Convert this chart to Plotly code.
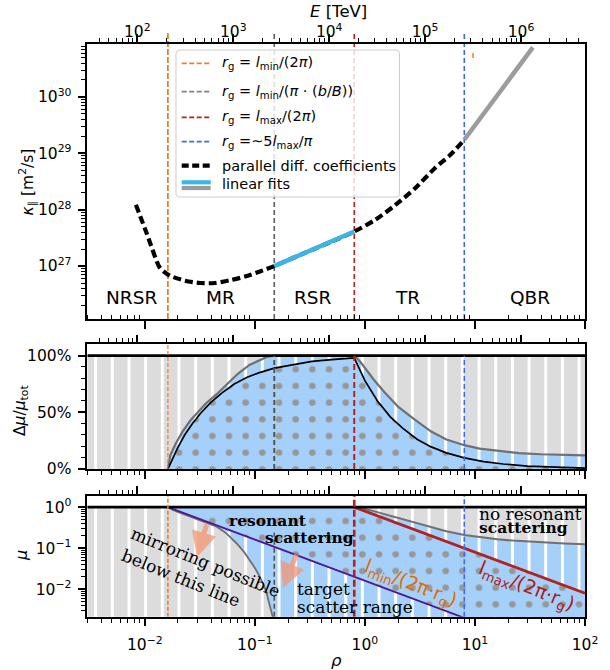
import math
import plotly.graph_objects as go

W, H = 610, 670

# ---------------- data ----------------
RHO_RANGE = [0.003, 100.0]          # rho axis limits
E_RANGE = [30.1, 4.64e6]            # top axis limits, E [TeV]
KAPPA_RANGE = [1.15e26, 8.7e30]
FRAC_RANGE = [0.0, 1.1]
MU_RANGE = [0.00214, 1.87]

# characteristic rho values (vertical dashed lines)
RHO_LMIN_2PI = 0.0162      # r_g = l_min/(2 pi)
RHO_LMIN_BB = 0.150        # r_g = l_min/(pi (b/B))
RHO_LMAX_2PI = 0.80        # r_g = l_max/(2 pi)
RHO_5LMAX_PI = 8.0         # r_g = ~5 l_max/pi

# top panel: parallel diffusion coefficients
kappa_rho = [0.0083, 0.0104, 0.0135, 0.0150, 0.0170, 0.0232, 0.0318, 0.0435, 0.0594,
             0.0814, 0.111, 0.150, 0.258, 0.483, 0.80, 1.24, 1.88, 2.86, 4.34, 5.94, 8.0]
kappa_val = [1.22e28, 3.8e27, 9.8e26, 7.9e26, 6.7e26, 5.5e26, 5.0e26, 5.0e26, 5.6e26,
             6.5e26, 8.0e26, 1.0e27, 1.58e27, 2.65e27, 4.1e27, 6.6e27, 1.2e28, 2.4e28,
             5.5e28, 9.3e28, 1.74e29]
fit_rsr_rho = [0.15, 0.80]
fit_rsr_kappa = [1.0e27, 4.1e27]
fit_qbr_rho = [8.0, 33.6]
fit_qbr_kappa = [1.74e29, 7.6e30]
stray_rho = [9.6, 9.6]
stray_kappa = [4.9e30, 6.0e30]

regime_names = ["NRSR", "MR", "RSR", "TR", "QBR"]
regime_rho = [0.0075, 0.049, 0.338, 2.42, 31.6]

# middle panel: resonant fraction
mid_black_rho = [0.0162, 0.018, 0.020, 0.023, 0.027, 0.032, 0.040, 0.050, 0.065, 0.085,
                 0.11, 0.15, 0.22, 0.33, 0.50, 0.80, 1.0, 1.3, 1.7, 2.2, 3.0, 4.0, 5.5,
                 8.0, 12.0, 18.0, 30.0, 50.0, 100.0]
mid_black_frac = [0.0, 0.10, 0.19, 0.30, 0.40, 0.49, 0.59, 0.67, 0.75, 0.81, 0.85, 0.89,
                  0.92, 0.95, 0.965, 0.98, 0.78, 0.60, 0.46, 0.36, 0.26, 0.195, 0.142,
                  0.098, 0.065, 0.044, 0.026, 0.016, 0.008]
mid_gray_rho = [0.0162, 0.017, 0.019, 0.022, 0.026, 0.030, 0.036, 0.045, 0.056, 0.070,
                0.090, 0.110, 0.130, 0.150, 0.80, 0.90, 1.0, 1.2, 1.5, 2.0, 2.8, 4.0,
                5.5, 8.0, 11.0, 16.0, 25.0, 40.0, 60.0, 100.0]
mid_gray_frac = [0.0, 0.12, 0.22, 0.33, 0.43, 0.50, 0.58, 0.66, 0.75, 0.84, 0.92, 0.96,
                 0.99, 1.0, 1.0, 0.95, 0.89, 0.79, 0.68, 0.55, 0.44, 0.33, 0.26, 0.21,
                 0.18, 0.16, 0.14, 0.13, 0.125, 0.12]

# bottom panel: pitch-angle cosine regions
bot_mirror_rho = [0.0162, 0.018, 0.021, 0.025, 0.030, 0.037, 0.045, 0.055, 0.068, 0.080,
                  0.090, 0.100, 0.111, 0.120, 0.128, 0.136, 0.142, 0.146]
bot_mirror_mu = [1.0, 0.85, 0.72, 0.60, 0.50, 0.41, 0.335, 0.23, 0.132, 0.080, 0.052,
                 0.033, 0.020, 0.013, 0.0079, 0.0045, 0.0028, 0.0020]
bot_nores_rho = [0.80, 0.90, 1.0, 1.2, 1.5, 2.0, 2.8, 4.0, 5.5, 8.0, 11.0, 16.0, 22.0,
                 32.0, 45.0, 65.0, 100.0]
bot_nores_mu = [1.0, 0.95, 0.90, 0.80, 0.68, 0.55, 0.44, 0.33, 0.26, 0.21, 0.185, 0.165,
                0.153, 0.143, 0.137, 0.131, 0.125]
lmin_line_rho = [0.0162, 8.0]
lmin_line_mu = [1.0, 0.002]
lmax_line_rho = [0.80, 100.0]
lmax_line_mu = [1.0, 0.008]
MU_BOTTOM = 0.002

# ticks
rho_ticks = [0.01, 0.1, 1, 10, 100]
rho_ticktext = ["10<sup>\u22122</sup>", "10<sup>\u22121</sup>", "10<sup>0</sup>",
                "10<sup>1</sup>", "10<sup>2</sup>"]
E_ticks = [1e2, 1e3, 1e4, 1e5, 1e6]
E_ticktext = ["10<sup>2</sup>", "10<sup>3</sup>", "10<sup>4</sup>", "10<sup>5</sup>",
              "10<sup>6</sup>"]
kappa_ticks = [1e27, 1e28, 1e29, 1e30]
kappa_ticktext = ["10<sup>27</sup>", "10<sup>28</sup>", "10<sup>29</sup>", "10<sup>30</sup>"]
frac_ticks = [0.0, 0.5, 1.0]
frac_ticktext = ["0%", "50%", "100%"]
frac_minor = [0.1, 0.2, 0.3, 0.4, 0.6, 0.7, 0.8, 0.9]
mu_ticks = [0.01, 0.1, 1.0]
mu_ticktext = ["10<sup>\u22122</sup>", "10<sup>\u22121</sup>", "10<sup>0</sup>"]


def log_minor(lo, hi):
    out = []
    for k in range(math.floor(math.log10(lo)) - 1, math.ceil(math.log10(hi)) + 1):
        for m in range(2, 10):
            v = m * 10.0 ** k
            if lo <= v <= hi:
                out.append(v)
    return out


# ---------------- geometry ----------------
def px2x(px):
    return px / W


def py2y(py):
    return 1 - py / H


XD = [px2x(87.3), px2x(585)]
Y_TOP = [py2y(319), py2y(44)]
Y_MID = [py2y(469), py2y(344.3)]
Y_BOT = [py2y(616.7), py2y(496)]

SANS = "DejaVu Sans"
SERIF = "DejaVu Serif"
TICKFONT = dict(family=SANS, size=15.5, color="black")

GRAY_BG = "#DCDCDC"
BLUE_BG = "#A5D0FA"
DOT_FG = "#979797"
ORANGE = "#EC7E2C"
GRAYL = "#5E5E5E"
RED = "#B22222"
BLUE = "#4169E1"


def pattern(shape, bg, fg, sol):
    return dict(shape=shape, bgcolor=bg, fgcolor=fg, size=16.67, solidity=sol,
                fillmode="replace")


fig = go.Figure()


def area(xs, ys, xa, ya, pat, bg):
    fig.add_trace(go.Scatter(x=xs, y=ys, xaxis=xa, yaxis=ya, mode="lines",
                             line=dict(width=0), fill="toself", fillcolor=bg,
                             fillpattern=pat, hoverinfo="skip", showlegend=False))


def line(xs, ys, xa, ya, color, width, dash="solid", shape="linear"):
    ln = dict(color=color, width=width, dash=dash, shape=shape)
    if shape == "spline":
        ln["smoothing"] = 0.7
    fig.add_trace(go.Scatter(x=xs, y=ys, xaxis=xa, yaxis=ya, mode="lines", line=ln,
                             hoverinfo="skip", showlegend=False))


def dummy(xa, ya, xv, yv):
    fig.add_trace(go.Scatter(x=[xv], y=[yv], xaxis=xa, yaxis=ya, mode="markers",
                             marker=dict(opacity=0, size=1), hoverinfo="skip",
                             showlegend=False))


# ---- top panel traces ----
line(kappa_rho, kappa_val, "x", "y", "black", 4.2, "8px,4px", "spline")
line(fit_rsr_rho, fit_rsr_kappa, "x", "y", "#3DB4E6", 4.5)
line(fit_qbr_rho, fit_qbr_kappa, "x", "y", "#9C9C9C", 4.5)
dummy("x4", "y", 1e3, 1e28)

# ---- middle panel traces ----
area([RHO_RANGE[0], RHO_RANGE[1], RHO_RANGE[1], RHO_RANGE[0]], [0, 0, 1, 1], "x2", "y2",
     pattern("|", GRAY_BG, "white", 0.18), GRAY_BG)
area(mid_gray_rho + [RHO_RANGE[1], mid_gray_rho[0]], mid_gray_frac + [0, 0], "x2", "y2",
     pattern("|", BLUE_BG, "white", 0.18), BLUE_BG)
area(mid_black_rho + [RHO_RANGE[1]], mid_black_frac + [0], "x2", "y2",
     pattern(".", BLUE_BG, DOT_FG, 0.12), BLUE_BG)
line(mid_gray_rho, mid_gray_frac, "x2", "y2", "#707070", 2.2)
line(mid_black_rho, mid_black_frac, "x2", "y2", "black", 1.7)
line(RHO_RANGE, [1, 1], "x2", "y2", "black", 2.6)
dummy("x5", "y2", 1e3, 0.5)

# ---- bottom panel traces ----
area([RHO_RANGE[0], RHO_RANGE[1], RHO_RANGE[1], RHO_RANGE[0]],
     [MU_BOTTOM, MU_BOTTOM, 1, 1], "x3", "y3",
     pattern("|", GRAY_BG, "white", 0.18), GRAY_BG)
area(bot_mirror_rho + [RHO_RANGE[1]] + bot_nores_rho[::-1],
     bot_mirror_mu + [MU_BOTTOM] + bot_nores_mu[::-1], "x3", "y3",
     pattern("|", BLUE_BG, "white", 0.18), BLUE_BG)
area([lmin_line_rho[0], lmax_line_rho[0], lmax_line_rho[1], RHO_RANGE[1], lmin_line_rho[1]],
     [lmin_line_mu[0], lmax_line_mu[0], lmax_line_mu[1], MU_BOTTOM, lmin_line_mu[1]],
     "x3", "y3", pattern(".", BLUE_BG, DOT_FG, 0.12), BLUE_BG)
line(bot_mirror_rho, bot_mirror_mu, "x3", "y3", "#707070", 1.8)
line(bot_nores_rho, bot_nores_mu, "x3", "y3", "#707070", 2.0)
line(lmin_line_rho, lmin_line_mu, "x3", "y3", "#4E1596", 1.8)
line(lmax_line_rho, lmax_line_mu, "x3", "y3", RED, 2.8)
line(RHO_RANGE, [1, 1], "x3", "y3", "black", 2.6)
dummy("x6", "y3", 1e3, 0.1)

# ---------------- shapes ----------------
shapes = []


def vline(xref, xv, yref, y0, y1, color, width, dash, layer="above"):
    shapes.append(dict(type="line", xref=xref, yref=yref, x0=xv, x1=xv, y0=y0, y1=y1,
                       line=dict(color=color, width=width, dash=dash), layer=layer))


# top panel (extending a little above the frame)
top_y0, top_y1 = py2y(319), py2y(33)
vline("x", RHO_LMIN_2PI, "paper", top_y0, top_y1, ORANGE, 1.8, "6px,2px", "below")
vline("x", RHO_LMIN_BB, "paper", top_y0, top_y1, GRAYL, 1.6, "5px,3px", "below")
vline("x", RHO_LMAX_2PI, "paper", top_y0, top_y1, RED, 1.6, "5px,3px", "below")
vline("x", RHO_5LMAX_PI, "paper", top_y0, top_y1, BLUE, 1.6, "5px,3px", "below")
vline("x", stray_rho[0], "y", stray_kappa[0], stray_kappa[1], ORANGE, 1.5, "solid", "below")
# middle panel
vline("x2", RHO_LMIN_2PI, "y2", FRAC_RANGE[0], FRAC_RANGE[1], ORANGE, 1.2, "4px,2px")
vline("x2", RHO_LMIN_BB, "y2", 0, 1, "#555555", 2.0, "5px,3px")
vline("x2", RHO_LMAX_2PI, "y2", 0, 1, RED, 2.0, "6px,3px")
vline("x2", RHO_5LMAX_PI, "y2", 0, 1, BLUE, 1.5, "5px,3px")
# bottom panel
vline("x3", RHO_LMIN_2PI, "y3", MU_RANGE[0], MU_RANGE[1], ORANGE, 1.6, "4px,2px")
vline("x3", RHO_LMIN_BB, "y3", MU_RANGE[0], 0.24, "#555555", 1.6, "5px,3px")
vline("x3", RHO_LMAX_2PI, "y3", MU_RANGE[0], MU_RANGE[1], RED, 2.6, "7px,3px")
vline("x3", RHO_5LMAX_PI, "y3", MU_RANGE[0], MU_RANGE[1], BLUE, 1.6, "5px,2.5px")


# legend box (rounded)
def rrect(x0, y0, x1, y1, r):
    pts = [
        ("M", [(x0 + r, y0)]), ("L", [(x1 - r, y0)]), ("Q", [(x1, y0), (x1, y0 + r)]),
        ("L", [(x1, y1 - r)]), ("Q", [(x1, y1), (x1 - r, y1)]), ("L", [(x0 + r, y1)]),
        ("Q", [(x0, y1), (x0, y1 - r)]), ("L", [(x0, y0 + r)]), ("Q", [(x0, y0), (x0 + r, y0)]),
    ]
    s = ""
    for cmd, ps in pts:
        s += cmd + " ".join(f"{px2x(a):.5f},{py2y(b):.5f}" for a, b in ps) + " "
    return s + "Z"


shapes.append(dict(type="path", xref="paper", yref="paper", path=rrect(176, 50, 399.5, 197, 4),
                   fillcolor="rgba(255,255,255,0.8)", line=dict(color="#CCCCCC", width=1),
                   layer="above"))

leg_x0, leg_x1 = 181.7, 210.7
legend_lines = [
    (63.3, ORANGE, 1.8, "5px,2.5px"),
    (91.7, "#7F7F7F", 1.8, "5px,2.5px"),
    (117.3, RED, 1.8, "5px,2.5px"),
    (141.7, BLUE, 1.8, "5px,2.5px"),
    (165.7, "black", 4.2, "7px,3.5px"),
    (182.3, "#3DB4E6", 4.2, "solid"),
    (188.0, "#9C9C9C", 4.2, "solid"),
]
for yy, col, wd, ds in legend_lines:
    shapes.append(dict(type="line", xref="paper", yref="paper", x0=px2x(leg_x0),
                       x1=px2x(leg_x1), y0=py2y(yy), y1=py2y(yy),
                       line=dict(color=col, width=wd, dash=ds), layer="above"))

# ---------------- annotations ----------------
ann = []


def text(px, py, t, size=15.5, family=SANS, color="black", angle=0, xanchor="center",
         yanchor="middle", align="center"):
    ann.append(dict(x=px2x(px), y=py2y(py), xref="paper", yref="paper", text=t,
                    showarrow=False, font=dict(family=family, size=size, color=color),
                    textangle=angle, xanchor=xanchor, yanchor=yanchor, align=align))


leg_texts = [
    (63.3, "<i>r</i><sub>g</sub> = <i>l</i><sub>min</sub>/(2<i>\u03c0</i>)"),
    (91.7, "<i>r</i><sub>g</sub> = <i>l</i><sub>min</sub>/(<i>\u03c0</i> \u00b7 (<i>b</i>/<i>B</i>))"),
    (117.3, "<i>r</i><sub>g</sub> = <i>l</i><sub>max</sub>/(2<i>\u03c0</i>)"),
    (141.7, "<i>r</i><sub>g</sub> =\u223c5<i>l</i><sub>max</sub>/<i>\u03c0</i>"),
    (165.7, "parallel diff. coefficients"),
    (184.3, "linear fits"),
]
for yy, t in leg_texts:
    text(220, yy, t, size=14.5, xanchor="left")

# axis titles
text(338, 11, "<i>E</i> [TeV]", size=16.5)
text(27.5, 182, "<i>\u03ba</i><sub>\u2225</sub> [m<sup>2</sup>/s]", size=15.5, angle=-90)
text(21, 411, "\u0394<i>\u03bc</i>/<i>\u03bc</i><sub>tot</sub>", size=15.5, angle=-90)
text(21, 556, "<i>\u03bc</i>", size=16, angle=-90)
text(336, 660, "<i>\u03c1</i>", size=16.5)

# regime labels
for name, r in zip(regime_names, regime_rho):
    ann.append(dict(x=math.log10(r), y=py2y(297), xref="x", yref="paper", text=name,
                    showarrow=False, font=dict(family=SANS, size=18.5, color="black"),
                    xanchor="center", yanchor="middle"))

# bottom panel texts
text(268, 520, "<b>resonant</b>", size=15.5, family=SERIF)
text(309, 537, "<b>scattering</b>", size=15.5, family=SERIF)
text(477, 514, "no resonant", size=17, family=SERIF, xanchor="left")
text(477, 527.5, "<b>scattering</b>", size=15.5, family=SERIF, xanchor="left")
text(205, 562, "mirroring possible", size=17, family=SERIF, angle=22)
text(181, 578, "below this line", size=17, family=SERIF, angle=22)
text(295, 589, "target", size=17, family=SERIF, xanchor="left")
text(295, 606.7, "scatter range", size=17, family=SERIF, xanchor="left")
text(410, 583, "l<sub>min</sub>/(2\u03c0\u00b7r<sub>g</sub>)", size=19, color="#E06C00", angle=21.5)
text(526, 586, "l<sub>max</sub>/(2\u03c0\u00b7r<sub>g</sub>)", size=19, color="#B01818", angle=22)

# arrows
for (hx, hy, tx, ty) in [(197, 557, 207, 523), (283, 588, 297, 553)]:
    ann.append(dict(x=px2x(hx), y=py2y(hy), xref="paper", yref="paper", text="",
                    showarrow=True, ax=tx - hx, ay=ty - hy, arrowhead=2, arrowsize=1,
                    arrowwidth=5, arrowcolor="rgba(243,150,115,0.75)", standoff=0,
                    startstandoff=0))

# ---------------- axes ----------------
lr = [math.log10(RHO_RANGE[0]), math.log10(RHO_RANGE[1])]
rho_minor = log_minor(RHO_RANGE[0], RHO_RANGE[1])
E_minor = log_minor(E_RANGE[0], E_RANGE[1])


def rho_axis(anchor, labels, minor_dir):
    return dict(domain=XD, anchor=anchor, type="log", range=lr, tickmode="array",
                tickvals=rho_ticks, ticktext=rho_ticktext, showticklabels=labels,
                ticks="outside", ticklen=8, tickwidth=1.6, tickcolor="black",
                minor=dict(tickvals=rho_minor, ticks=minor_dir, ticklen=4.5, tickwidth=1,
                           tickcolor="black", showgrid=False),
                showline=True, linewidth=1.5, linecolor="black", mirror=True,
                showgrid=False, zeroline=False, tickfont=TICKFONT, automargin=False,
                ticklabelstandoff=5)


def E_axis(over, anchor, labels):
    return dict(overlaying=over, anchor=anchor, side="top", type="log",
                range=[math.log10(E_RANGE[0]), math.log10(E_RANGE[1])], tickmode="array",
                tickvals=E_ticks, ticktext=E_ticktext, showticklabels=labels,
                ticks="outside", ticklen=8, tickwidth=1.6, tickcolor="black",
                minor=dict(tickvals=E_minor, ticks="outside", ticklen=4.5, tickwidth=1,
                           tickcolor="black", showgrid=False),
                showline=True, linewidth=1.5, linecolor="black", showgrid=False,
                zeroline=False, tickfont=TICKFONT, automargin=False, ticklabelstandoff=-9)


def y_axis(domain, anchor, typ, rng, tv, tt, minor_vals):
    return dict(domain=domain, anchor=anchor, type=typ, range=rng, tickmode="array",
                tickvals=tv, ticktext=tt, ticks="outside", ticklen=8, tickwidth=1.6,
                tickcolor="black",
                minor=dict(tickvals=minor_vals, ticks="outside", ticklen=4.5, tickwidth=1,
                           tickcolor="black", showgrid=False),
                showline=True, linewidth=1.5, linecolor="black", mirror=True,
                showgrid=False, zeroline=False, tickfont=TICKFONT, automargin=False,
                ticklabelstandoff=3)


fig.update_layout(
    width=W, height=H, autosize=False, template="none",
    margin=dict(l=0, r=0, t=0, b=0, pad=0),
    paper_bgcolor="white", plot_bgcolor="white", showlegend=False,
    xaxis=rho_axis("y", False, "inside"),
    xaxis2=rho_axis("y2", False, "outside"),
    xaxis3=rho_axis("y3", True, "outside"),
    xaxis4=E_axis("x", "y", True),
    xaxis5=E_axis("x2", "y2", False),
    xaxis6=E_axis("x3", "y3", False),
    yaxis=y_axis(Y_TOP, "x", "log",
                 [math.log10(KAPPA_RANGE[0]), math.log10(KAPPA_RANGE[1])],
                 kappa_ticks, kappa_ticktext, log_minor(KAPPA_RANGE[0], KAPPA_RANGE[1])),
    yaxis2=y_axis(Y_MID, "x2", "linear", FRAC_RANGE, frac_ticks, frac_ticktext, frac_minor),
    yaxis3=y_axis(Y_BOT, "x3", "log", [math.log10(MU_RANGE[0]), math.log10(MU_RANGE[1])],
                  mu_ticks, mu_ticktext, log_minor(MU_RANGE[0], MU_RANGE[1])),
    shapes=shapes,
    annotations=ann,
)

fig.write_html("out.html", config={"displayModeBar": False},
               post_script="document.body.style.margin='0px';document.body.style.padding='0px';")
